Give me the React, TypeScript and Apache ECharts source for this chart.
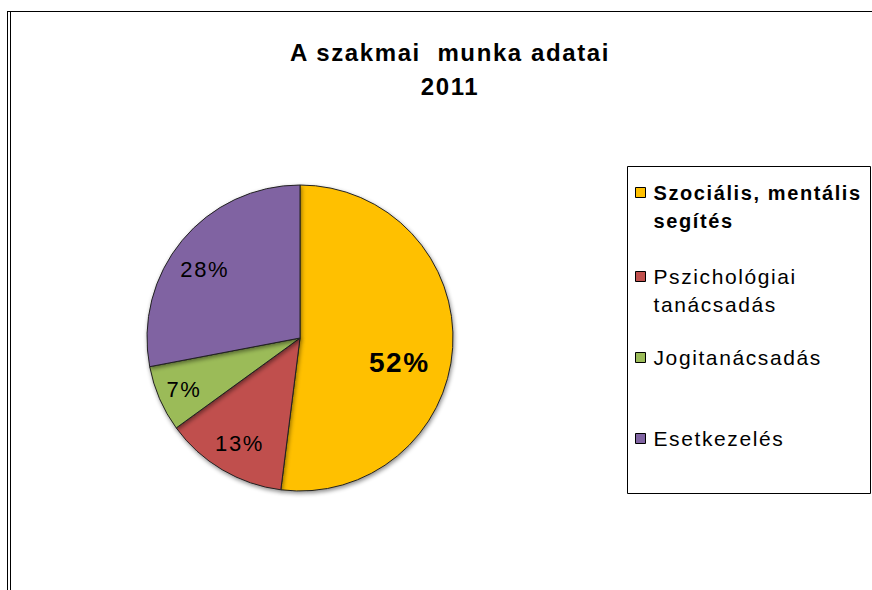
import React, { useEffect, useRef } from "react";
import * as echarts from "echarts";

const TITLE_LINES = ["A szakmai  munka adatai", "2011"];
const CATEGORIES = ["Szociális, mentális\nsegítés", "Pszichológiai\ntanácsadás", "Jogitanácsadás", "Esetkezelés"];
const VALUES = [52, 13, 7, 28];
const COLORS = ["#FFC000", "#C0504D", "#9BBB59", "#8064A2"];

// styling: label nudges (dx, dy) from the default inside position
const LABEL_NUDGE = [[20, 20], [-20, 37], [-43, 20], [-34, -18]];
// legend icon tops (layout)
const LEGEND_ICON_TOPS = [187.5, 271.5, 352.5, 433.5];

const FONT = "'Liberation Sans', Arial, sans-serif";
const LH = 28;

export default function App() {
  const ref = useRef<HTMLDivElement>(null);
  useEffect(() => {
    if (!ref.current) return;
    const chart = echarts.init(ref.current, null, { renderer: "svg" });
    const legends = CATEGORIES.map((name, i) => {
      const twoLine = name.includes("\n");
      return {
        show: true,
        orient: "vertical",
        left: 635,
        top: LEGEND_ICON_TOPS[i] - (twoLine ? 37 : 9),
        padding: 0,
        itemWidth: 10,
        itemHeight: 10,
        icon: "rect",
        selectedMode: false,
        formatter: (n: string) => (n.includes("\n") ? " \n" + n : n),
        itemStyle: { borderColor: "#000", borderWidth: 1, shadowBlur: 0, shadowOffsetX: 0, shadowOffsetY: 0 },
        textStyle: {
          fontFamily: FONT,
          fontSize: i === 0 ? 20 : 21,
          fontWeight: i === 0 ? "bold" : "normal",
          color: "#000",
          lineHeight: LH,
          padding: [0, 0, 0, 3],
        },
        data: [name],
      };
    });
    chart.setOption({
      animation: false,
      backgroundColor: "#fff",
      title: {
        text: TITLE_LINES.join("\n"),
        left: 450,
        top: 35,
        padding: 0,
        textAlign: "center",
        textStyle: { fontFamily: FONT, fontSize: 24, fontWeight: "bold", color: "#000", lineHeight: 34 },
      },
      legend: legends,
      graphic: [
        { type: "line", shape: { x1: 7, y1: 11.5, x2: 872, y2: 11.5 }, style: { stroke: "#000", lineWidth: 1 } },
        { type: "line", shape: { x1: 7.5, y1: 11, x2: 7.5, y2: 590 }, style: { stroke: "#000", lineWidth: 1 } },
        { type: "line", shape: { x1: 10.5, y1: 11, x2: 10.5, y2: 590 }, style: { stroke: "#000", lineWidth: 1 } },
        { type: "rect", shape: { x: 627.5, y: 166.5, width: 243, height: 327 }, style: { fill: "none", stroke: "#000", lineWidth: 1 }, z: -1 },
      ],
      series: [
        {
          type: "pie",
          center: [300, 338],
          radius: 153,
          startAngle: 90,
          clockwise: true,
          silent: true,
          label: {
            show: true,
            position: "inside",
            formatter: (p: any) => `${p.value}%`,
            fontFamily: FONT,
            fontSize: 22,
            color: "#000",
          },
          labelLine: { show: false },
          labelLayout: (p: any) => ({ dx: LABEL_NUDGE[p.dataIndex][0], dy: LABEL_NUDGE[p.dataIndex][1] }),
          itemStyle: {
            borderColor: "#222",
            borderWidth: 1,
            shadowBlur: 4,
            shadowOffsetX: 1,
            shadowOffsetY: 2,
            shadowColor: "rgba(0,0,0,0.45)",
          },
          data: CATEGORIES.map((name, i) => ({
            name,
            value: VALUES[i],
            itemStyle: { color: COLORS[i] },
            label: i === 0 ? { fontWeight: "bold", fontSize: 28 } : undefined,
          })),
        },
      ],
    });
    return () => chart.dispose();
  }, []);
  return (
    <div
      ref={ref}
      style={{ position: "absolute", left: 0, top: 0, width: 872, height: 590, letterSpacing: "1.6px" }}
    />
  );
}
